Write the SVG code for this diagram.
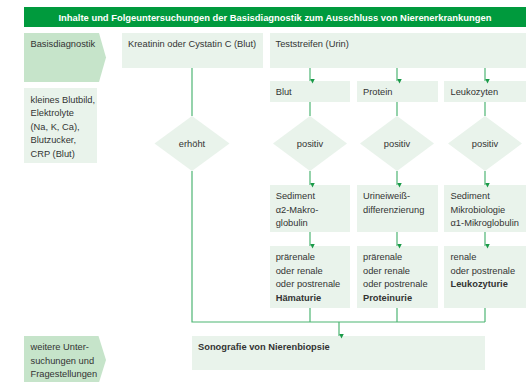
<svg xmlns="http://www.w3.org/2000/svg" width="532" height="382" viewBox="0 0 532 382">
<style>
text{font-family:"Liberation Sans",Arial,sans-serif;font-size:9.3px;fill:#333}
.b{font-weight:bold}
.t{fill:#fff;font-weight:bold;font-size:9.6px}
.m{text-anchor:middle}
.box{fill:#e9f3eb}
.pent{fill:#c6e4ca}
.ln{stroke:#4db573;stroke-width:1.2;fill:none}
.ar{stroke:#4db573;stroke-width:1.2;fill:none;marker-end:url(#ah)}
</style>
<defs>
<marker id="ah" viewBox="0 0 6 6" refX="3" refY="6" markerWidth="5" markerHeight="5" markerUnits="userSpaceOnUse" orient="auto-start-reverse">
<path d="M0,0 L6,0 L3,6 Z" fill="#1a9a48" transform="rotate(-90 3 3)"/>
</marker>
</defs>
<rect width="532" height="382" fill="#fff"/>
<g id="title">
<rect x="24" y="7" width="502" height="20" fill="#009a3d"/>
<text class="t m" x="275" y="20.5" textLength="433" lengthAdjust="spacingAndGlyphs">Inhalte und Folgeuntersuchungen der Basisdiagnostik zum Ausschluss von Nierenerkrankungen</text>
</g>
<g id="basisdiagnostik">
<path class="pent" d="M24,33 H99 L106,57.5 L99,82 H24 Z"/>
<text x="30.5" y="47">Basisdiagnostik</text>
</g>
<g id="kleines">
<rect class="box" x="24" y="88" width="73" height="75"/>
<text x="30.5" y="102.5">kleines Blutbild,</text>
<text x="30.5" y="116">Elektrolyte</text>
<text x="30.5" y="129.7">(Na, K, Ca),</text>
<text x="30.5" y="143.3">Blutzucker,</text>
<text x="30.5" y="157">CRP (Blut)</text>
</g>
<g id="kreatinin">
<rect class="box" x="122" y="33" width="141" height="35"/>
<text x="128" y="47">Kreatinin oder Cystatin C (Blut)</text>
</g>
<g id="teststreifen">
<rect class="box" x="270" y="33" width="256" height="35"/>
<text x="275.5" y="47">Teststreifen (Urin)</text>
</g>
<g id="blut">
<rect class="box" x="270" y="81" width="80" height="21"/>
<text x="275.7" y="95">Blut</text>
</g>
<g id="protein">
<rect class="box" x="357" y="81" width="81" height="21"/>
<text x="363" y="95">Protein</text>
</g>
<g id="leukozyten">
<rect class="box" x="444" y="81" width="82" height="21"/>
<text x="450.5" y="95">Leukozyten</text>
</g>
<g id="erhoeht">
<path class="box" d="M192,116 L229.5,143.5 L192,171 L154.5,143.5 Z"/>
<text class="m" x="192" y="146.7">erhöht</text>
</g>
<g id="positiv1">
<path class="box" d="M310,116 L347,143.5 L310,171 L273,143.5 Z"/>
<text class="m" x="310" y="146.7">positiv</text>
</g>
<g id="positiv2">
<path class="box" d="M397,116 L434,143.5 L397,171 L360,143.5 Z"/>
<text class="m" x="397" y="146.7">positiv</text>
</g>
<g id="positiv3">
<path class="box" d="M485,116 L522,143.5 L485,171 L448,143.5 Z"/>
<text class="m" x="485" y="146.7">positiv</text>
</g>
<g id="sediment1">
<rect class="box" x="270" y="185" width="80" height="47"/>
<text x="275.7" y="199.3">Sediment</text>
<text x="275.7" y="212.7">α2-Makro-</text>
<text x="275.7" y="226">globulin</text>
</g>
<g id="urineiweiss">
<rect class="box" x="357" y="185" width="81" height="47"/>
<text x="363" y="199.3">Urineiweiß-</text>
<text x="363" y="212.7">differenzierung</text>
</g>
<g id="sediment2">
<rect class="box" x="444" y="185" width="82" height="47"/>
<text x="450.5" y="199.3">Sediment</text>
<text x="450.5" y="212.7">Mikrobiologie</text>
<text x="450.5" y="226">α1-Mikroglobulin</text>
</g>
<g id="haematurie">
<rect class="box" x="270" y="246" width="80" height="62"/>
<text x="275.7" y="260">prärenale</text>
<text x="275.7" y="273.7">oder renale</text>
<text x="275.7" y="287.3">oder postrenale</text>
<text class="b" x="275.7" y="301">Hämaturie</text>
</g>
<g id="proteinurie">
<rect class="box" x="357" y="246" width="81" height="62"/>
<text x="363" y="260">prärenale</text>
<text x="363" y="273.7">oder renale</text>
<text x="363" y="287.3">oder postrenale</text>
<text class="b" x="363" y="301">Proteinurie</text>
</g>
<g id="leukozyturie">
<rect class="box" x="444" y="246" width="82" height="62"/>
<text x="450.5" y="260">renale</text>
<text x="450.5" y="273.7">oder postrenale</text>
<text class="b" x="450.5" y="287.3">Leukozyturie</text>
</g>
<g id="sonografie">
<rect class="box" x="192" y="336" width="293" height="34"/>
<text class="b" x="198" y="350">Sonografie von Nierenbiopsie</text>
</g>
<g id="weitere">
<path class="pent" d="M24,336 H98.5 L106,360 L98.5,384 H24 Z"/>
<text x="30.5" y="350">weitere Unter-</text>
<text x="30.5" y="363.5">suchungen und</text>
<text x="30.5" y="377">Fragestellungen</text>
</g>
<g id="connectors">
<path class="ln" d="M192,68 V116"/>
<path class="ln" d="M192,171 V322 H485"/>
<path class="ar" d="M310,68 V81"/>
<path class="ar" d="M397,68 V81"/>
<path class="ar" d="M485,68 V81"/>
<path class="ln" d="M310,102 V116"/>
<path class="ln" d="M397,102 V116"/>
<path class="ln" d="M485,102 V116"/>
<path class="ar" d="M310,171 V185"/>
<path class="ar" d="M397,171 V185"/>
<path class="ar" d="M485,171 V185"/>
<path class="ar" d="M310,232 V246"/>
<path class="ar" d="M397,232 V246"/>
<path class="ar" d="M485,232 V246"/>
<path class="ln" d="M310,308 V322"/>
<path class="ln" d="M397,308 V322"/>
<path class="ln" d="M485,308 V322"/>
<path class="ar" d="M339,322 V336"/>
</g>
</svg>
